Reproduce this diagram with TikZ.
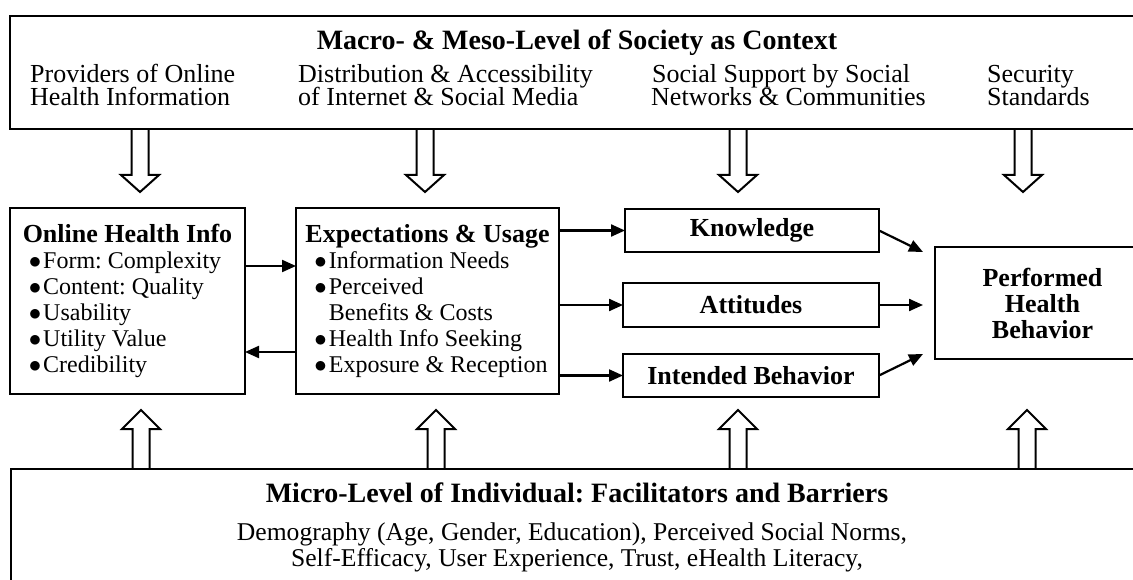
\documentclass[tikz,border=0pt]{standalone}
\usepackage{fontspec}
\setmainfont{Liberation Serif}
\usetikzlibrary{arrows.meta}
\frenchspacing
\begin{document}
\begin{tikzpicture}[x=1pt,y=-1pt,
  frame/.style={draw,line width=2.8pt,inner sep=0pt,outer sep=0pt},
  body/.style={inner sep=0pt,font=\fontsize{26}{26}\selectfont},
  small/.style={inner sep=0pt,font=\fontsize{25.6}{26}\selectfont},
  head/.style={inner sep=0pt,font=\fontsize{28}{28}\selectfont\bfseries},
  listbox/.style={frame,align=left,font=\fontsize{24}{26}\selectfont},
  boldbox/.style={frame,align=center,font=\fontsize{26}{26}\selectfont\bfseries},
  link/.style={line width=2.2pt,-{Triangle[length=14pt,width=12pt]}},
  fat/.style={line width=2pt,line join=miter},
]
\clip (0,0) rectangle (1133,580);

% hollow arrows from the context band down into the process
\foreach \x in {140,425,738,1023}
  \draw[fat] (\x-8.5,129) -- (\x-8.5,175) -- (\x-19,175) -- (\x,192)
             -- (\x+19,175) -- (\x+8.5,175) -- (\x+8.5,129);

% hollow arrows from the individual band up into the process
\foreach \x in {141,436,738,1027}
  \draw[fat] (\x-8.5,469) -- (\x-8.5,429) -- (\x-19,429) -- (\x,410)
             -- (\x+19,429) -- (\x+8.5,429) -- (\x+8.5,469);

% context band (macro / meso level)
\node[frame,anchor=north west,minimum width=1140pt,minimum height=113pt] (ctx) at (10,16) {};
\node[head,anchor=base] (ctxtitle) at (577,50) {Macro- \& Meso-Level of Society as Context};
\node[body,anchor=base west] (p1) at (30,83)  {Providers of Online};
\node[body,anchor=base west] (p2) at (30,106) {Health Information};
\node[body,anchor=base west] (d1) at (298,83)  {Distribution \& Accessibility};
\node[body,anchor=base west] (d2) at (298,106) {of Internet \& Social Media};
\node[body,anchor=base west] (s1) at (652,83)  {Social Support by Social};
\node[body,anchor=base west] (s2) at (651,106) {Networks \& Communities};
\node[body,anchor=base west] (q1) at (987,83)  {Security};
\node[body,anchor=base west] (q2) at (987,106) {Standards};

% process boxes
\node[listbox,minimum width=235pt,minimum height=186pt] (oh) at (127.5,301)
  {{\fontsize{26}{26}\selectfont\bfseries Online Health Info}\\
   \hspace*{6pt}$\bullet$\hspace{2pt}Form: Complexity\\
   \hspace*{6pt}$\bullet$\hspace{2pt}Content: Quality\\
   \hspace*{6pt}$\bullet$\hspace{2pt}Usability\\
   \hspace*{6pt}$\bullet$\hspace{2pt}Utility Value\\
   \hspace*{6pt}$\bullet$\hspace{2pt}Credibility};

\node[listbox,minimum width=263pt,minimum height=186pt] (eu) at (427.5,301)
  {{\fontsize{26}{26}\selectfont\bfseries Expectations \& Usage}\\
   \hspace*{9pt}$\bullet$\hspace{2pt}Information Needs\\
   \hspace*{9pt}$\bullet$\hspace{2pt}Perceived\\
   \hspace*{9pt}\hphantom{$\bullet$}\hspace{2pt}Benefits \& Costs\\
   \hspace*{9pt}$\bullet$\hspace{2pt}Health Info Seeking\\
   \hspace*{9pt}$\bullet$\hspace{2pt}Exposure \& Reception};

\node[boldbox,minimum width=254pt,minimum height=43pt] (kn) at (752,230.5) {Knowledge};
\node[boldbox,minimum width=256pt,minimum height=44pt] (at) at (751,305) {Attitudes};
\node[boldbox,minimum width=256pt,minimum height=43pt] (ib) at (751,375.5) {Intended Behavior};

\node[boldbox,minimum width=215pt,minimum height=112pt] (pb) at (1042.5,303)
  {Performed\\Health\\Behavior};

% individual band (micro level)
\node[frame,anchor=north west,minimum width=1140pt,minimum height=150pt] (ind) at (11,469) {};
\node[head,anchor=base] (indtitle) at (577,502) {Micro-Level of Individual: Facilitators and Barriers};
\node[small,anchor=base] (ind1) at (572,540) {Demography (Age, Gender, Education), Perceived Social Norms,};
\node[small,anchor=base] (ind2) at (577,566) {Self-Efficacy, User Experience, Trust, eHealth Literacy,};

% connectors
\draw[link] ([yshift=35pt]oh.east) -- ([yshift=35pt]eu.west);
\draw[link] ([yshift=-51pt]eu.west) -- ([yshift=-51pt]oh.east);
\draw[link] (eu.east |- kn.west) -- (kn.west);
\draw[link] (eu.east |- at.west) -- (at.west);
\draw[link] (eu.east |- ib.west) -- (ib.west);
\draw[link] (kn.east) -- ([xshift=-12pt,yshift=51pt]pb.west);
\draw[link] (at.east) -- ([xshift=-12pt,yshift=-2pt]pb.west);
\draw[link] (ib.east) -- ([xshift=-12pt,yshift=-51pt]pb.west);
\end{tikzpicture}
\end{document}
